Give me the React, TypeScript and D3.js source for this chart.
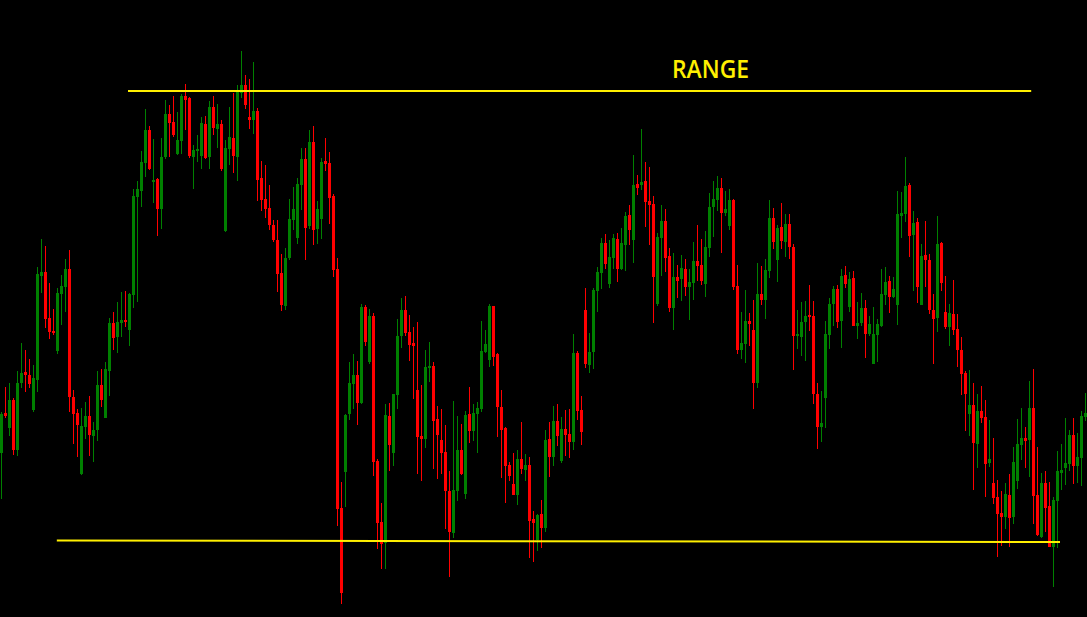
import { useEffect } from 'react';
import * as d3 from 'd3';

// price levels, one entry per candle, oldest first
const opens = [
  547, 587, 572, 600, 550, 617, 628, 625, 590, 620,
  724, 728, 682, 669, 649, 706, 713, 731, 603, 587,
  526, 573, 584, 564, 570, 615, 582, 629, 677, 663,
  677, 680, 670, 705, 803, 809, 837, 870, 818, 821,
  791, 843, 886, 878, 846, 859, 904, 902, 843, 849,
  844, 876, 843, 893, 871, 876, 769, 851, 862, 843,
  907, 915, 883, 880, 889, 822, 801, 792, 775, 760,
  727, 694, 742, 780, 762, 815, 841, 774, 858, 771,
  781, 839, 837, 804, 731, 492, 528, 586, 616, 625,
  597, 693, 638, 684, 539, 478, 457, 584, 547, 605,
  664, 690, 668, 657, 610, 564, 561, 632, 634, 581,
  560, 548, 509, 467, 509, 550, 506, 586, 569, 586,
  591, 648, 640, 694, 646, 593, 572, 535, 516, 505,
  541, 530, 535, 481, 460, 486, 472, 561, 543, 579,
  539, 571, 566, 558, 647, 590, 690, 635, 648, 709,
  727, 757, 716, 742, 761, 731, 755, 785, 760, 816,
  815, 819, 799, 796, 696, 762, 779, 744, 692, 723,
  721, 731, 713, 717, 739, 735, 716, 752, 793, 800,
  812, 787, 774, 800, 714, 650, 656, 679, 670, 617,
  706, 700, 729, 782, 740, 773, 758, 776, 753, 664,
  663, 678, 685, 684, 606, 573, 602, 665, 696, 711,
  679, 725, 693, 722, 674, 677, 692, 666, 636, 665,
  674, 705, 719, 703, 695, 784, 786, 815, 765, 778,
  695, 745, 740, 690, 682, 757, 688, 673, 686, 671,
  650, 627, 586, 595, 556, 589, 583, 537, 517, 503,
  487, 483, 505, 483, 519, 555, 562, 560, 592, 505,
  463, 517, 494, 453, 499, 527, 532, 536, 565, 534,
  542, 583,
];

const highs = [
  588, 613, 617, 602, 629, 657, 650, 641, 635, 733,
  761, 754, 717, 691, 712, 725, 741, 750, 610, 591,
  592, 598, 604, 578, 629, 631, 638, 682, 688, 698,
  708, 709, 707, 811, 819, 849, 891, 874, 861, 822,
  862, 900, 895, 904, 888, 906, 916, 903, 855, 865,
  883, 884, 899, 904, 896, 880, 860, 893, 907, 915,
  949, 925, 921, 938, 892, 839, 835, 815, 780, 780,
  746, 752, 801, 813, 822, 852, 852, 870, 874, 799,
  842, 862, 848, 806, 742, 518, 586, 638, 646, 639,
  696, 695, 691, 687, 541, 497, 596, 597, 606, 681,
  702, 704, 685, 673, 678, 615, 650, 658, 638, 594,
  591, 575, 529, 599, 584, 576, 589, 613, 596, 598,
  679, 670, 696, 694, 647, 610, 573, 538, 547, 550,
  578, 546, 543, 489, 486, 500, 570, 578, 594, 596,
  583, 590, 591, 666, 649, 604, 712, 667, 712, 733,
  762, 766, 760, 766, 767, 772, 788, 795, 845, 825,
  871, 838, 833, 804, 767, 795, 791, 752, 747, 735,
  745, 741, 731, 758, 775, 761, 769, 807, 819, 824,
  822, 809, 811, 801, 735, 688, 710, 687, 700, 737,
  734, 741, 800, 792, 775, 797, 786, 786, 756, 690,
  698, 699, 715, 699, 617, 609, 679, 702, 714, 715,
  731, 734, 728, 729, 698, 707, 700, 684, 693, 681,
  731, 733, 724, 723, 809, 808, 843, 817, 789, 782,
  756, 779, 746, 706, 784, 758, 724, 696, 720, 686,
  663, 629, 630, 617, 606, 614, 600, 580, 562, 520,
  509, 517, 526, 553, 581, 592, 573, 619, 631, 553,
  527, 529, 518, 503, 549, 556, 582, 570, 582, 567,
  589, 607,
];

const lows = [
  501, 582, 564, 545, 544, 612, 608, 612, 588, 608,
  707, 672, 661, 665, 646, 675, 688, 588, 556, 543,
  525, 561, 544, 538, 559, 593, 582, 604, 650, 647,
  663, 673, 654, 692, 698, 793, 823, 830, 797, 764,
  771, 841, 843, 863, 845, 846, 870, 842, 811, 838,
  831, 841, 831, 865, 852, 829, 768, 835, 827, 819,
  902, 891, 871, 866, 799, 789, 782, 770, 758, 708,
  689, 690, 740, 770, 756, 790, 740, 771, 755, 756,
  761, 829, 776, 723, 474, 396, 493, 580, 591, 575,
  596, 654, 636, 524, 451, 431, 431, 529, 534, 591,
  652, 664, 639, 601, 526, 519, 552, 618, 531, 521,
  526, 471, 423, 462, 499, 525, 501, 557, 559, 547,
  588, 647, 633, 634, 563, 522, 497, 519, 505, 495,
  526, 519, 442, 438, 449, 452, 468, 523, 534, 554,
  537, 544, 542, 550, 580, 555, 632, 627, 631, 688,
  711, 731, 712, 731, 718, 730, 729, 755, 737, 805,
  810, 773, 755, 677, 694, 724, 728, 688, 670, 702,
  699, 704, 680, 700, 719, 715, 703, 743, 763, 789,
  747, 784, 770, 710, 646, 641, 637, 654, 591, 612,
  695, 681, 722, 751, 718, 751, 743, 741, 630, 651,
  644, 639, 669, 596, 551, 558, 572, 651, 674, 672,
  652, 712, 688, 674, 661, 674, 642, 664, 636, 638,
  673, 695, 687, 702, 675, 762, 778, 743, 709, 697,
  695, 713, 686, 636, 668, 709, 671, 654, 665, 633,
  605, 569, 564, 510, 532, 577, 503, 533, 496, 443,
  454, 471, 453, 476, 511, 540, 532, 523, 476, 464,
  462, 468, 453, 413, 452, 510, 515, 529, 516, 517,
  514, 579,
];

const closes = [
  586, 584, 600, 550, 617, 627, 625, 616, 622, 726,
  728, 681, 668, 667, 707, 714, 731, 603, 586, 575,
  574, 584, 565, 570, 615, 600, 631, 677, 662, 678,
  680, 678, 706, 804, 811, 838, 870, 831, 820, 791,
  843, 886, 877, 865, 860, 904, 900, 844, 850, 851,
  877, 842, 893, 872, 876, 831, 852, 863, 844, 909,
  915, 895, 880, 889, 820, 800, 791, 775, 760, 726,
  695, 742, 781, 791, 816, 841, 772, 858, 770, 791,
  838, 836, 802, 730, 491, 407, 585, 617, 625, 597,
  693, 658, 684, 538, 477, 456, 585, 555, 606, 664,
  690, 667, 655, 654, 563, 561, 633, 634, 579, 565,
  547, 509, 468, 510, 550, 526, 585, 569, 587, 592,
  649, 656, 694, 643, 593, 570, 534, 524, 505, 541,
  531, 535, 479, 477, 485, 472, 560, 543, 579, 564,
  571, 565, 558, 647, 589, 568, 636, 648, 710, 728,
  757, 736, 743, 762, 731, 757, 784, 770, 815, 812,
  818, 798, 795, 723, 763, 779, 742, 692, 723, 719,
  732, 713, 718, 739, 734, 719, 753, 793, 801, 812,
  787, 791, 800, 713, 650, 657, 679, 676, 617, 706,
  700, 730, 782, 758, 772, 759, 776, 753, 664, 666,
  678, 684, 683, 606, 573, 577, 666, 696, 711, 678,
  724, 716, 721, 674, 677, 692, 666, 676, 666, 676,
  706, 718, 703, 711, 786, 787, 814, 764, 777, 713,
  744, 740, 690, 681, 756, 717, 673, 687, 670, 650,
  626, 606, 595, 557, 589, 582, 536, 541, 502, 486,
  483, 506, 482, 538, 556, 562, 559, 592, 504, 465,
  517, 492, 453, 500, 529, 530, 537, 565, 534, 543,
  584, 587,
];

// range levels drawn by hand on the chart (price, candle index)
const rangeHigh = { price: 909, from: 32, to: 257.8 };
const rangeLow = { from: 14.2, to: 265, priceFrom: 459.5, priceTo: 458 };
const rangeLabel = 'RANGE';

const width = 1087;
const height = 617;
const step = 4;
const bull = '#008000';
const bear = '#ff0000';
const yellow = '#ffef00';

export default function App() {
  useEffect(() => {
    document.body.style.margin = '0';
    document.body.style.background = '#000';
  }, []);

  const n = opens.length;
  const x = d3.scaleLinear().domain([0, n]).range([0, n * step]);
  const y = d3.scaleLinear().domain([383, 1000]).range([height, 0]);

  const candles = d3.range(n).map(i => ({
    i,
    o: opens[i],
    h: highs[i],
    l: lows[i],
    c: closes[i],
  }));

  return (
    <svg
      width={width}
      height={height}
      style={{ display: 'block', position: 'absolute', left: 0, top: 0, background: '#000' }}
    >
      <rect width={width} height={height} fill="#000" />
      <g shapeRendering="crispEdges">
        {candles.map(d => {
          const col = d.c >= d.o ? bull : bear;
          const top = y(Math.max(d.o, d.c));
          const bot = y(Math.min(d.o, d.c));
          const x0 = Math.round(x(d.i));
          return (
            <g key={d.i}>
              <rect x={x0 + 1} y={y(d.h)} width={1} height={y(d.l) - y(d.h)} fill={col} />
              <rect x={x0} y={top} width={3} height={Math.max(1, bot - top)} fill={col} />
            </g>
          );
        })}
      </g>
      <line
        x1={x(rangeHigh.from)}
        x2={x(rangeHigh.to)}
        y1={y(rangeHigh.price)}
        y2={y(rangeHigh.price)}
        stroke={yellow}
        strokeWidth={2}
      />
      <line
        x1={x(rangeLow.from)}
        x2={x(rangeLow.to)}
        y1={y(rangeLow.priceFrom)}
        y2={y(rangeLow.priceTo)}
        stroke={yellow}
        strokeWidth={2}
      />
      <text
        x={710.5}
        y={78}
        textAnchor="middle"
        fill={yellow}
        fontFamily="'Open Sans', 'DejaVu Sans', sans-serif"
        fontWeight={600}
        fontSize={26}
        textLength={77}
        lengthAdjust="spacingAndGlyphs"
      >
        {rangeLabel}
      </text>
    </svg>
  );
}
